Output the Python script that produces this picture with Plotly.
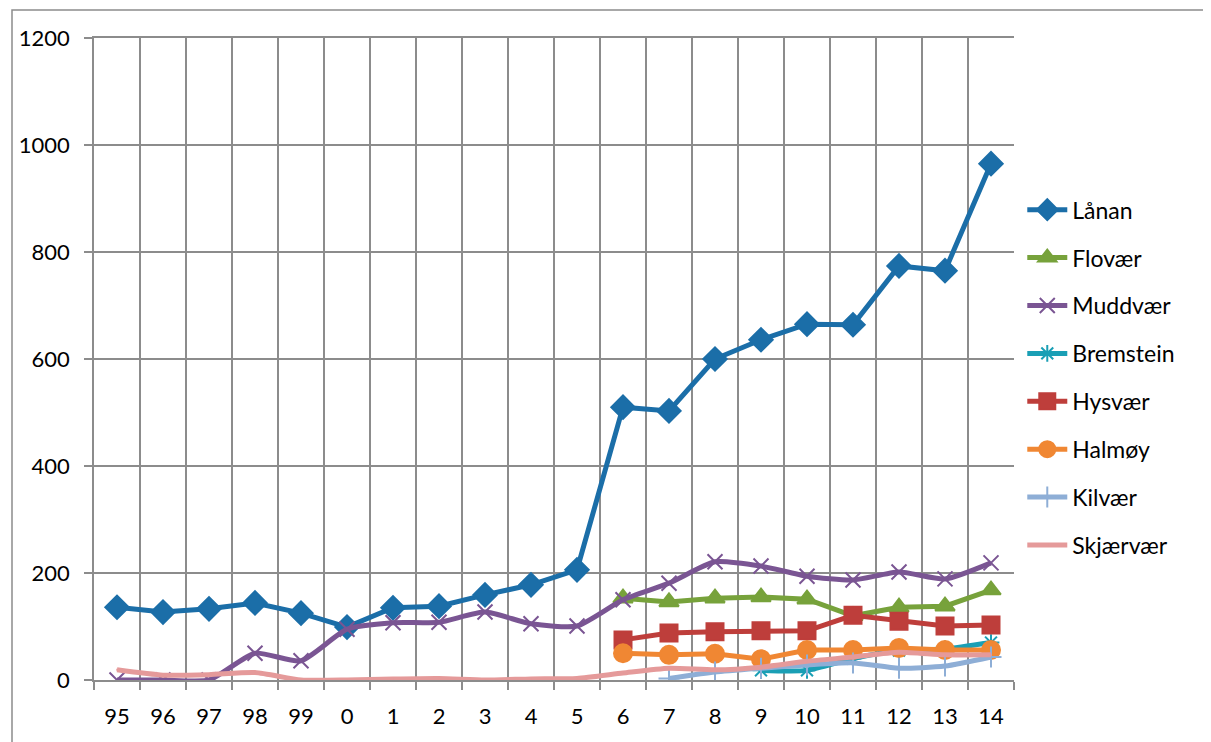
import plotly.graph_objects as go

years = ["95", "96", "97", "98", "99", "0", "1", "2", "3", "4", "5",
         "6", "7", "8", "9", "10", "11", "12", "13", "14"]

lanan = [136, 127, 133, 144, 125, 99, 135, 138, 159, 178, 206,
         510, 503, 600, 636, 665, 664, 774, 765, 965]
flovaer = [None] * 11 + [153, 146, 153, 155, 151, 120, 136, 138, 168]
muddvaer = [0, 0, 0, 50, 36, 95, 107, 108, 127, 105, 101,
            150, 181, 221, 213, 194, 187, 202, 189, 219]
bremstein = [None] * 14 + [18, 18, 40, 55, 58, 70]
hysvaer = [None] * 11 + [75, 88, 90, 92, 92, 121, 110, 101, 103]
halmoy = [None] * 11 + [50, 47, 49, 39, 56, 56, 60, 56, 56]
kilvaer = [None] * 12 + [3, 15, 22, 28, 32, 22, 26, 43]
skjaervaer = [19, 9, 10, 14, 0, 0, 2, 3, 0, 2, 3,
              13, 22, 19, 24, 35, 43, 52, 47, 47]

series = [
    ("Lånan", lanan, "#1B6EA8", "diamond", 18, "linear"),
    ("Flovær", flovaer, "#77A23B", "triangle-up", 17, "linear"),
    ("Muddvær", muddvaer, "#7A5593", "x-thin-open", 15, "spline"),
    ("Bremstein", bremstein, "#1A9FB5", "asterisk-open", 14, "spline"),
    ("Hysvær", hysvaer, "#BE3E3B", "square", 17, "linear"),
    ("Halmøy", halmoy, "#F08733", "circle", 18, "linear"),
    ("Kilvær", kilvaer, "#8EAED6", "cross-thin-open", 15, "spline"),
    ("Skjærvær", skjaervaer, "#E59A9A", "line-ew-open", 1, "spline"),
]

fig = go.Figure()
for i, (name, vals, col, sym, size, shape) in enumerate(series):
    fig.add_trace(go.Scatter(
        x=years, y=vals, name=name, mode="lines+markers",
        line=dict(color=col, width=5, shape=shape, smoothing=0.6),
        marker=dict(symbol=sym, size=size, color=col,
                    line=dict(color=col, width=2)),
        legendgroup=f"g{i}",
    ))

grid = "#8C8C8C"
fig.update_layout(
    width=1211, height=742,
    margin=dict(l=86, r=205, t=30, b=70),
    paper_bgcolor="white", plot_bgcolor="white",
    font=dict(family="Lato, Calibri, sans-serif", size=22, color="#000000"),
    showlegend=True,
    legend=dict(x=1.009, y=0.766, xanchor="left", yanchor="top",
                font=dict(size=23), tracegroupgap=15,
                itemwidth=40, bgcolor="rgba(0,0,0,0)"),
    xaxis=dict(type="category", categoryorder="array", categoryarray=years,
               tickson="boundaries", showgrid=True, gridcolor=grid, gridwidth=1.5,
               ticks="outside", ticklen=8, tickcolor=grid, tickwidth=1.5,
               showline=True, linecolor=grid, linewidth=1.5, mirror=True,
               ticklabelstandoff=16, range=[-0.5, 19.5], automargin=False),
    yaxis=dict(range=[0, 1200], dtick=200, showgrid=True, gridcolor=grid, gridwidth=1.5,
               ticks="outside", ticklen=8, tickcolor=grid, tickwidth=1.5,
               showline=True, linecolor=grid, linewidth=1.5,
               ticklabelstandoff=10, zeroline=False, automargin=False),
    shapes=[dict(type="rect", xref="paper", yref="paper",
                 x0=(12 - 94) / 920, x1=(1230 - 94) / 920,
                 y0=(680 - 770) / 642, y1=(680 - 10) / 642,
                 line=dict(color="#8C8C8C", width=1.5), layer="below")],
)

fig.write_html("out.html")
